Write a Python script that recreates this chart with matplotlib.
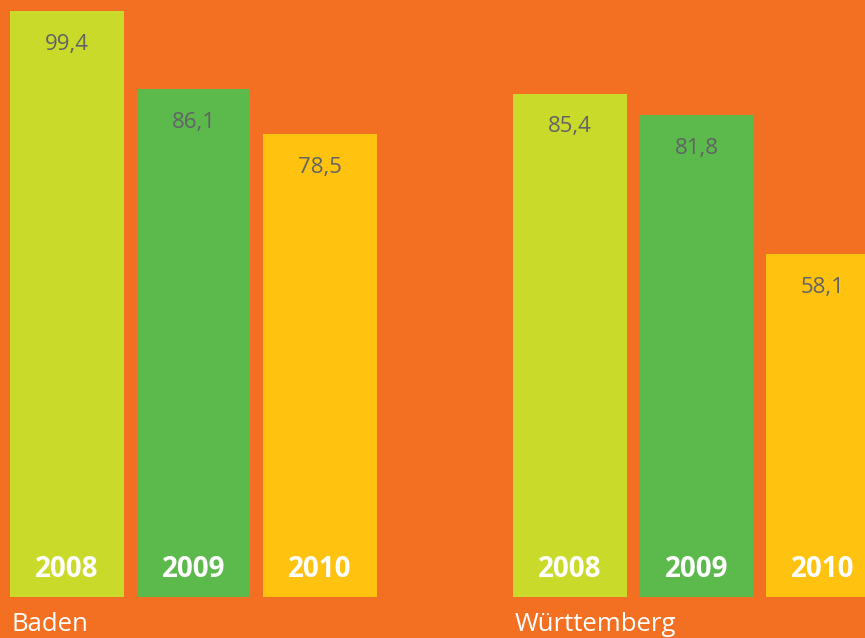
"""Baden / Wuerttemberg bar chart, 2008-2010."""

import matplotlib
matplotlib.use('Agg')
import matplotlib.pyplot as plt

groups = ['Baden', 'Württemberg']
years = ['2008', '2009', '2010']
values = {
    'Baden': [99.4, 86.1, 78.5],
    'Württemberg': [85.4, 81.8, 58.1],
}
colors = ['#CADA2A', '#5CB94B', '#FFC20F']

BG = '#F37022'
GRAY = '#616366'
GROUP_GAP = 3.976  # distance between first bars of each group, in bar steps

plt.rcParams['font.family'] = ['Open Sans', 'DejaVu Sans']

fig = plt.figure(figsize=(8.65, 6.38), dpi=100)
fig.patch.set_facecolor(BG)
ax = fig.add_axes([0, 0, 1, 1])
ax.set_facecolor(BG)

for g, grp in enumerate(groups):
    xs = [g * GROUP_GAP + i for i in range(len(years))]
    vals = values[grp]
    ax.bar(xs, vals, width=0.9, color=colors, linewidth=0)
    for x, v, yr in zip(xs, vals, years):
        ax.annotate('{:.1f}'.format(v).replace('.', ','), (x, v),
                    xytext=(0, -24), textcoords='offset points',
                    ha='center', va='center', fontsize=16, color=GRAY)
        ax.annotate(yr, (x, 0), xytext=(0, 20), textcoords='offset points',
                    ha='center', va='center', fontsize=20,
                    fontweight='bold', color='white')
    ax.annotate(grp, (xs[0] - 0.44, 0), xytext=(0, -24.5),
                textcoords='offset points', ha='left', va='baseline',
                fontsize=18.5, color='white')

ax.set_xlim(-0.53, 6.308)
ax.set_ylim(-6.96, 101.27)
ax.axis('off')

fig.savefig('out.png', dpi=100, facecolor=BG)
